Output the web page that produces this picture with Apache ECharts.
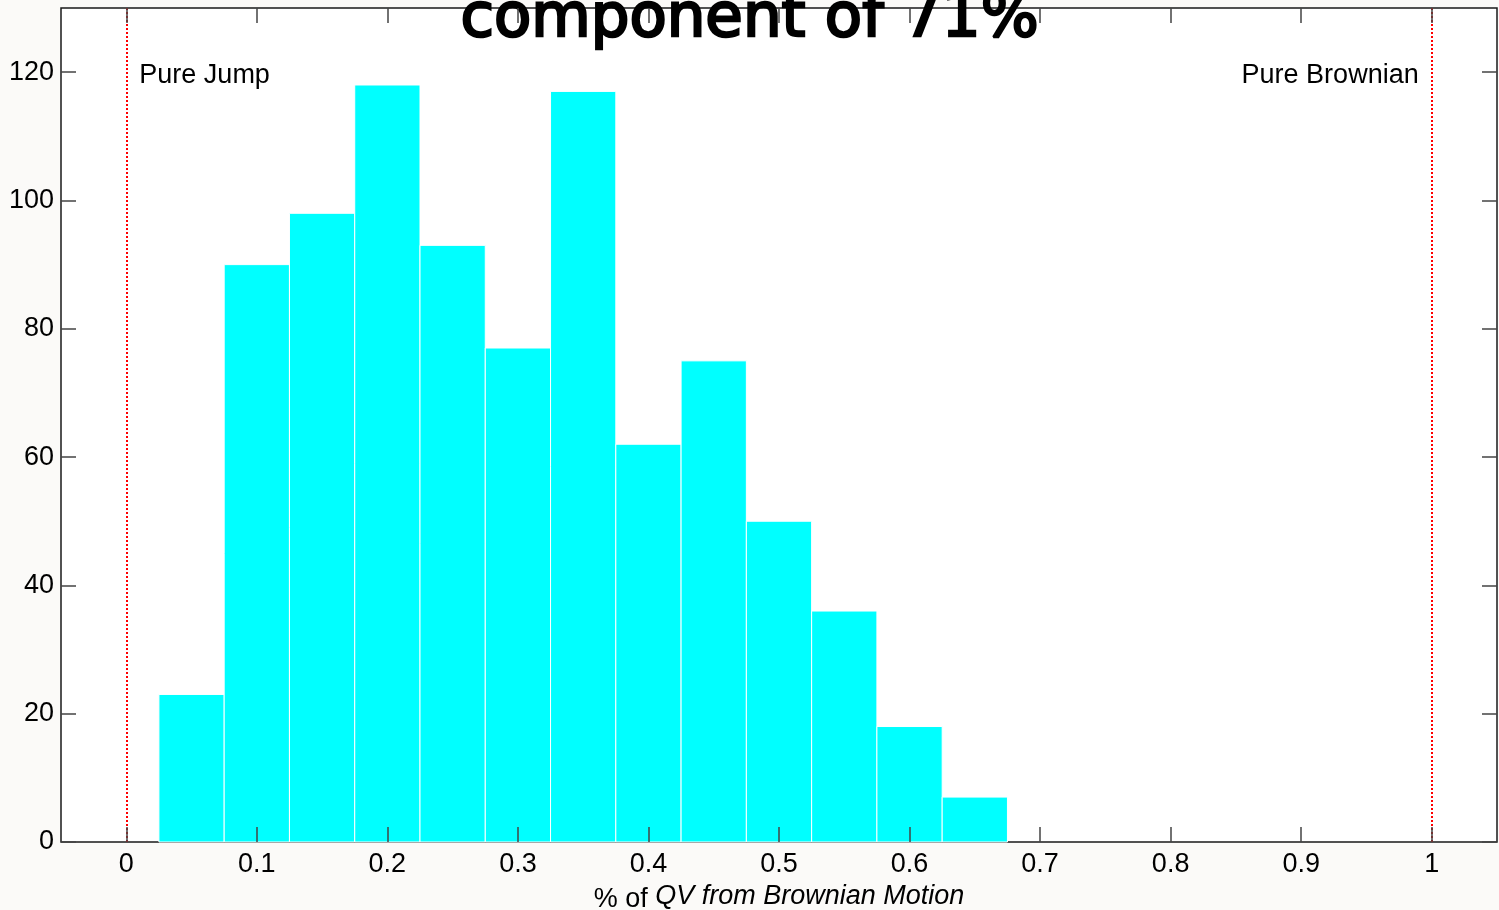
<!DOCTYPE html>
<html>
<head>
<meta charset="utf-8">
<script src="https://cdn.jsdelivr.net/npm/echarts@6/dist/echarts.min.js"></script>
<style>html,body{margin:0;padding:0;background:#fbfaf8;}#chart{width:1499px;height:910px;}</style>
</head>
<body>
<div id="chart"></div>
<script>
// Histogram data
const binCenters = [0.05, 0.10, 0.15, 0.20, 0.25, 0.30, 0.35, 0.40, 0.45, 0.50, 0.55, 0.60, 0.65];
const counts     = [23, 90, 98, 118, 93, 77, 117, 62, 75, 50, 36, 18, 7];
const binWidth = 0.05;
const xTicks = [0, 0.1, 0.2, 0.3, 0.4, 0.5, 0.6, 0.7, 0.8, 0.9, 1];
const yTicks = [0, 20, 40, 60, 80, 100, 120];
const refLines = [0, 1];
const annotations = [
  { name: 'Pure Jump', x: 0.01, y: 120, side: 'right' },
  { name: 'Pure Brownian', x: 0.99, y: 120, side: 'left' }
];
const titleText = 'component of 71%';

const chart = echarts.init(document.getElementById('chart'));
const labelFont = { fontFamily: 'Liberation Sans, Arial, sans-serif', fontSize: 27, color: '#000' };

const axisCommonX = {
  type: 'value', min: -0.05, max: 1.05,
  splitLine: { show: false },
  axisLine: { show: false, onZero: false },
  axisTick: { show: true, inside: true, length: 15, customValues: xTicks, lineStyle: { color: '#444', width: 1.5 } },
  z: 10
};
const axisCommonY = {
  type: 'value', min: 0, max: 130,
  splitLine: { show: false },
  axisLine: { show: false, onZero: false },
  axisTick: { show: true, inside: true, length: 15, customValues: yTicks, lineStyle: { color: '#444', width: 1.5 } },
  z: 10
};

chart.setOption({
  backgroundColor: '#fbfaf8',
  animation: false,
  title: {
    text: titleText, left: 'center', top: -15,
    textStyle: { fontFamily: 'Comic Sans MS, DejaVu Sans, sans-serif', fontSize: 61, fontWeight: 'normal', color: '#000',
                 textBorderColor: '#000', textBorderWidth: 2.5 }
  },
  grid: { left: 61, right: 2, top: 8, bottom: 68, outerBoundsMode: 'none', containLabel: false,
          show: true, backgroundColor: '#ffffff', borderColor: '#1a1a1a', borderWidth: 1.5 },
  xAxis: [
    Object.assign({}, axisCommonX, {
      position: 'bottom',
      axisLabel: Object.assign({ show: true, margin: 9, customValues: xTicks, formatter: v => String(+v.toFixed(2)) }, labelFont),
      name: '{n|% of }{i|QV from Brownian Motion}',
      nameLocation: 'middle', nameGap: 38,
      nameTextStyle: {
        rich: {
          n: { fontFamily: 'Liberation Sans, Arial, sans-serif', fontSize: 27, color: '#000', padding: [6, 0, 0, 0] },
          i: { fontFamily: 'Liberation Sans, Arial, sans-serif', fontSize: 27, fontStyle: 'italic', color: '#000' }
        }
      }
    }),
    Object.assign({}, axisCommonX, { position: 'top', axisLabel: { show: false } })
  ],
  yAxis: [
    Object.assign({}, axisCommonY, {
      position: 'left',
      axisLabel: Object.assign({ show: true, margin: 7, customValues: yTicks }, labelFont)
    }),
    Object.assign({}, axisCommonY, { position: 'right', axisLabel: { show: false } })
  ],
  series: [
    {
      type: 'custom',
      xAxisIndex: 0, yAxisIndex: 0,
      data: binCenters.map((c, i) => [c, counts[i]]),
      renderItem: function (params, api) {
        const c = api.value(0), v = api.value(1);
        const p0 = api.coord([c - binWidth / 2, v]);
        const p1 = api.coord([c + binWidth / 2, 0]);
        return {
          type: 'rect',
          shape: { x: p0[0], y: p0[1], width: p1[0] - p0[0], height: p1[1] - p0[1] },
          style: { fill: '#00ffff', stroke: '#ffffff', lineWidth: 1 }
        };
      },
      z: 2
    },
    {
      type: 'line',
      data: [],
      markLine: {
        silent: true, symbol: 'none', label: { show: false },
        lineStyle: { color: '#ff0000', type: 'dotted', width: 2 },
        data: refLines.map(x => ({ xAxis: x }))
      },
      z: 5
    },
    {
      type: 'custom',
      xAxisIndex: 0, yAxisIndex: 0,
      data: annotations.map(a => [a.x, a.y]),
      renderItem: function (params, api) {
        const a = annotations[params.dataIndex];
        const p = api.coord([api.value(0), api.value(1)]);
        return {
          type: 'text',
          x: p[0], y: p[1] + 3,
          style: {
            text: a.name, fill: '#000',
            align: a.side === 'right' ? 'left' : 'right', verticalAlign: 'middle',
            font: '27px "Liberation Sans", Arial, sans-serif'
          }
        };
      },
      z: 6
    }
  ]
});
</script>
</body>
</html>
